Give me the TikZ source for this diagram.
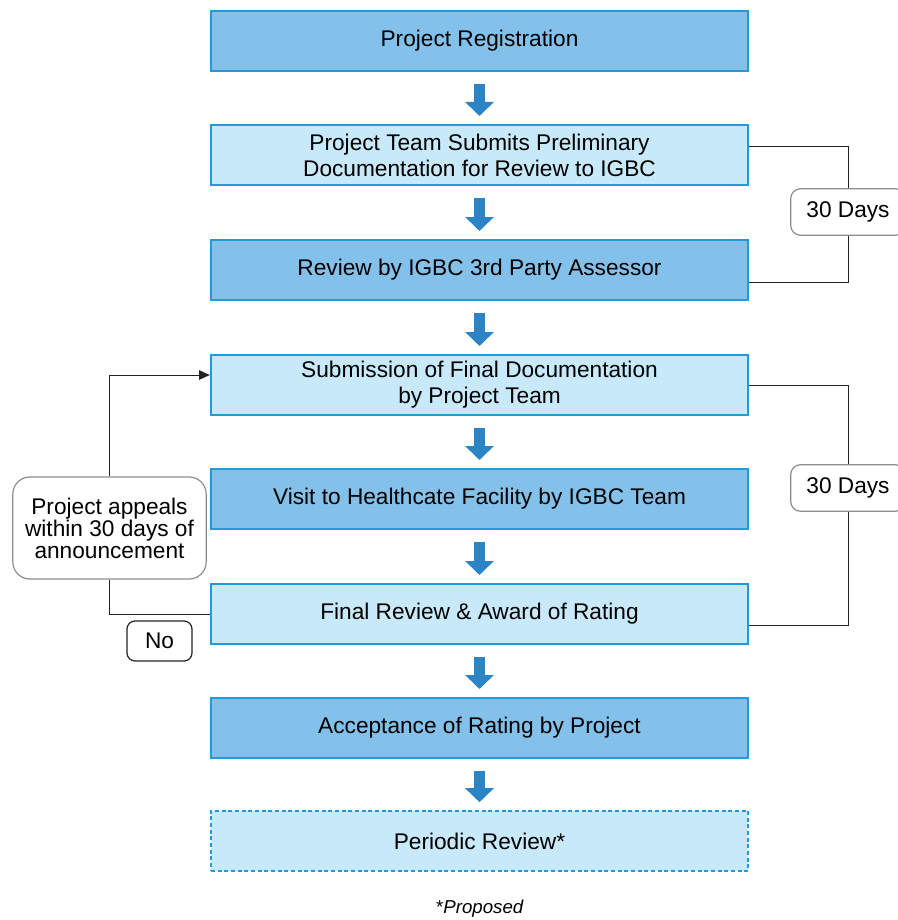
\documentclass[tikz,border=0pt]{standalone}
\usepackage{fontspec}
\setmainfont{Liberation Sans}
\usetikzlibrary{arrows.meta}

\begin{document}
\begin{tikzpicture}[x=0.75pt,y=-0.75pt,
  font=\fontsize{17}{19.5}\selectfont,
  StepBox/.style={draw=BoxEdge,line width=1.5pt,minimum width=403pt,minimum height=45pt,align=center,inner sep=0pt},
  DarkStep/.style={StepBox,fill=DarkFill},
  LightStep/.style={StepBox,fill=LightFill},
  FlowArrow/.style={BlockBlue,line width=8.25pt,-{Triangle[width=21pt,length=10.5pt]},shorten <=9pt,shorten >=6pt},
  DaysBox/.style={draw=NoteGrey,line width=0.9pt,fill=white,rounded corners=7.5pt,minimum width=86pt,minimum height=35pt,inner sep=0pt},
  Link/.style={draw=LinkGrey,line width=0.75pt}
]

%Page size
\useasboundingbox (0,0) rectangle (897,920);

%Defining colors
\definecolor{BoxEdge}{HTML}{1E9BDA}
\definecolor{DarkFill}{HTML}{84C1EA}
\definecolor{LightFill}{HTML}{C7E9F9}
\definecolor{BlockBlue}{HTML}{2A84C6}
\definecolor{NoteGrey}{HTML}{8C8C8C}
\definecolor{LinkGrey}{HTML}{222222}

%Steps
\node[DarkStep]  (reg)     at (479.5,41)  {Project Registration};
\node[LightStep] (prelim)  at (479.5,155) {Project Team Submits Preliminary\\Documentation for Review to IGBC};
\node[DarkStep]  (assess)  at (479.5,270) {Review by IGBC 3rd Party Assessor};
\node[LightStep] (subm)    at (479.5,385) {Submission of Final Documentation\\by Project Team};
\node[DarkStep]  (visit)   at (479.5,499) {Visit to Healthcate Facility by IGBC Team};
\node[LightStep] (rating)  at (479.5,614) {Final Review \& Award of Rating};
\node[DarkStep]  (accept)  at (479.5,728) {Acceptance of Rating by Project};
\node[LightStep,dashed,dash pattern=on 3pt off 2pt,line width=1.2pt] (periodic) at (479.5,841) {Periodic Review*};

%Arrows between steps
\draw[FlowArrow] (reg)    -- (prelim);
\draw[FlowArrow] (prelim) -- (assess);
\draw[FlowArrow] (assess) -- (subm);
\draw[FlowArrow] (subm)   -- (visit);
\draw[FlowArrow] (visit)  -- (rating);
\draw[FlowArrow] (rating) -- (accept);
\draw[FlowArrow] (accept) -- (periodic);

%30 days loops
\node[DaysBox] (daysA) at (848,212) {30 Days};
\draw[Link] ([yshift=6pt]prelim.east) -| (daysA.north);
\draw[Link] (daysA.south) |- ([yshift=-9pt]assess.east);
\node[DaysBox] (daysB) at (848,488) {30 Days};
\draw[Link] (subm.east) -| (daysB.north);
\draw[Link] (daysB.south) |- ([yshift=-8.25pt]rating.east);

%Appeal
\node[draw=NoteGrey,line width=0.9pt,fill=white,rounded corners=12.75pt,minimum width=145pt,minimum height=76.5pt,inner sep=0pt,align=center,font=\fontsize{17}{16.5}\selectfont] (appeal) at (109.5,528) {Project appeals\\within 30 days of\\announcement};
\draw[Link,-{Triangle[length=8pt,width=7pt]}] (appeal.north) |- ([yshift=7.5pt]subm.west);
\draw[Link] (appeal.south) |- (rating.west);
\node[draw=LinkGrey,line width=0.9pt,rounded corners=6pt,minimum width=48.75pt,minimum height=30pt,inner sep=0pt] (no) at (159.5,641) {No};

%Footnote
\node (proposed) at (480,909) {\fontsize{14}{16}\selectfont *\textit{Proposed}};

\end{tikzpicture}
\end{document}
